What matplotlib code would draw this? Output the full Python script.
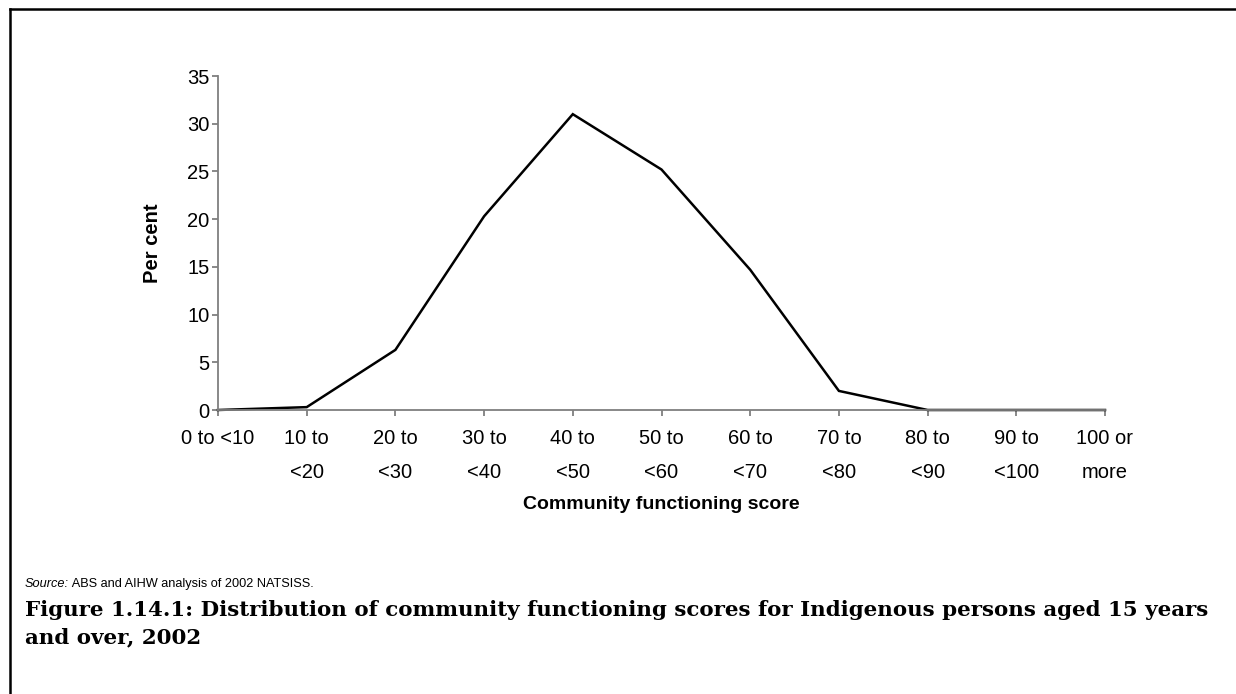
import matplotlib
matplotlib.use("Agg")
import matplotlib.pyplot as plt
from matplotlib.lines import Line2D

# Data
score_bands = ["0 to <10", "10 to\n<20", "20 to\n<30", "30 to\n<40", "40 to\n<50",
               "50 to\n<60", "60 to\n<70", "70 to\n<80", "80 to\n<90", "90 to\n<100",
               "100 or\nmore"]
per_cent = [0.0, 0.3, 6.3, 20.3, 31.0, 25.2, 14.7, 2.0, 0.0, 0.0, 0.0]
y_ticks = [0, 5, 10, 15, 20, 25, 30, 35]

W, H = 1236, 694
plt.rcParams['font.family'] = ['Liberation Sans', 'DejaVu Sans']

fig = plt.figure(figsize=(W / 100, H / 100), dpi=100)
ax = fig.add_axes([218 / W, 1 - 410 / H, (1105 - 218) / W, (410 - 76) / H])

x = list(range(len(per_cent)))
ax.plot(x, per_cent, color='black', linewidth=1.8, solid_joinstyle='miter', clip_on=False)

ax.set_xlim(0, len(per_cent) - 1)
ax.set_ylim(0, 35)
ax.set_yticks(y_ticks)
ax.set_xticks(x)
ax.set_xticklabels(score_bands, linespacing=1.95, va='top')

for side in ['top', 'right']:
    ax.spines[side].set_visible(False)
for side in ['left', 'bottom']:
    ax.spines[side].set_color('#7f7f7f')
    ax.spines[side].set_linewidth(1.3)
ax.tick_params(axis='both', direction='out', length=4, width=1.3, color='#7f7f7f',
               labelsize=14.5, labelcolor='black')
ax.tick_params(axis='y', pad=2)
ax.tick_params(axis='x', pad=10)

ax.set_ylabel("Per cent", fontsize=14.5, fontweight='bold', labelpad=18)
ax.set_xlabel("Community functioning score", fontsize=14, fontweight='bold', labelpad=10)

# frame around the figure (top and left only visible)
fig.add_artist(Line2D([10 / W, 10 / W], [0, 1 - 9 / H], color='black', linewidth=1.8,
                      transform=fig.transFigure))
fig.add_artist(Line2D([10 / W, 1], [1 - 9 / H, 1 - 9 / H], color='black', linewidth=1.8,
                      transform=fig.transFigure))

# source note
src = fig.text(25 / W, 1 - 584 / H, "Source:", fontsize=9.2, style='italic', va='center')
ax.annotate(" ABS and AIHW analysis of 2002 NATSISS.", xy=(1, 0.5), xycoords=src,
            fontsize=9.2, va='center', ha='left', annotation_clip=False)

# figure caption
fig.text(25 / W, 1 - 610 / H,
         "Figure 1.14.1: Distribution of community functioning scores for Indigenous persons aged 15 years",
         fontsize=15.4, fontweight='bold', family='DejaVu Serif', va='center')
fig.text(25 / W, 1 - 637 / H, "and over, 2002",
         fontsize=15.4, fontweight='bold', family='DejaVu Serif', va='center')

fig.savefig("out.png", dpi=100)
